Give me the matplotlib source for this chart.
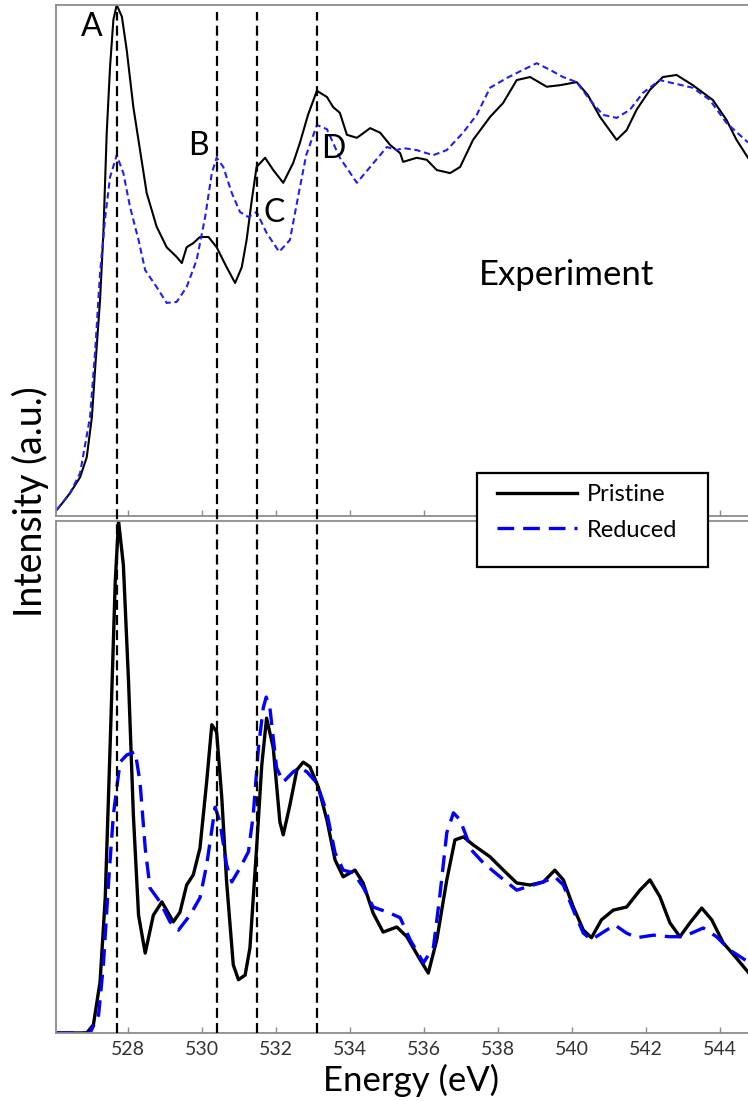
import numpy as np
import matplotlib
matplotlib.use("Agg")
from matplotlib import pyplot as plt
from matplotlib.lines import Line2D
from matplotlib.patches import Rectangle
from matplotlib.transforms import blended_transform_factory

plt.rcParams['font.family'] = ['Lato', 'DejaVu Sans']

# O K-edge, experiment (top panel)
exp_pristine_e = [526.08, 526.26, 526.44, 526.71, 526.89, 527.03, 527.12, 527.25, 527.34, 527.43,
                  527.52, 527.61, 527.70, 527.84, 527.97, 528.15, 528.33, 528.51, 528.78, 529.05,
                  529.32, 529.46, 529.59, 529.77, 529.95, 530.18, 530.40, 530.67, 530.90, 531.08,
                  531.21, 531.35, 531.48, 531.71, 531.93, 532.20, 532.47, 532.65, 532.87, 533.11,
                  533.38, 533.55, 533.73, 533.92, 534.19, 534.55, 534.82, 535.09, 535.36, 535.44,
                  535.81, 536.08, 536.35, 536.71, 536.98, 537.33, 537.79, 538.14, 538.51, 538.87,
                  539.32, 539.68, 540.13, 540.43, 540.76, 541.21, 541.48, 541.75, 542.11, 542.46,
                  542.83, 543.27, 543.81, 544.18, 544.45, 544.76]
exp_pristine_i = [0.012, 0.028, 0.045, 0.076, 0.115, 0.194, 0.292, 0.423, 0.554, 0.750,
                  0.879, 0.971, 1.000, 0.977, 0.912, 0.800, 0.716, 0.632, 0.566, 0.526,
                  0.507, 0.495, 0.526, 0.534, 0.546, 0.546, 0.526, 0.487, 0.456, 0.487,
                  0.540, 0.618, 0.683, 0.701, 0.677, 0.652, 0.691, 0.730, 0.785, 0.832,
                  0.820, 0.800, 0.789, 0.746, 0.740, 0.759, 0.750, 0.726, 0.710, 0.693,
                  0.701, 0.697, 0.677, 0.671, 0.683, 0.736, 0.781, 0.808, 0.853, 0.859,
                  0.840, 0.843, 0.849, 0.824, 0.781, 0.736, 0.755, 0.795, 0.834, 0.859,
                  0.863, 0.843, 0.814, 0.775, 0.736, 0.701]

exp_reduced_e = [526.08, 526.44, 526.71, 526.98, 527.12, 527.25, 527.39, 527.52, 527.70, 527.88,
                 528.06, 528.29, 528.47, 528.78, 529.05, 529.32, 529.59, 529.86, 530.09, 530.27,
                 530.40, 530.58, 530.81, 531.03, 531.26, 531.48, 531.75, 532.09, 532.38, 532.61,
                 532.82, 533.11, 533.38, 533.73, 534.19, 534.55, 535.00, 535.27, 535.44, 535.81,
                 536.25, 536.62, 537.06, 537.43, 537.79, 538.24, 538.68, 539.05, 539.41, 539.76,
                 540.13, 540.49, 540.84, 541.21, 541.57, 541.92, 542.38, 542.73, 543.27, 543.73,
                 544.18, 544.76]
exp_reduced_i = [0.012, 0.045, 0.084, 0.194, 0.325, 0.476, 0.585, 0.663, 0.706, 0.671,
                 0.605, 0.540, 0.481, 0.448, 0.417, 0.419, 0.448, 0.501, 0.585, 0.671,
                 0.701, 0.683, 0.632, 0.595, 0.585, 0.595, 0.554, 0.517, 0.540, 0.628,
                 0.706, 0.765, 0.757, 0.701, 0.652, 0.683, 0.722, 0.716, 0.720, 0.716,
                 0.706, 0.716, 0.750, 0.785, 0.838, 0.857, 0.873, 0.886, 0.873, 0.859,
                 0.849, 0.814, 0.785, 0.779, 0.795, 0.828, 0.853, 0.847, 0.838, 0.814,
                 0.769, 0.731]

# O K-edge, calculation (bottom panel)
calc_pristine_e = [526.08, 526.89, 527.07, 527.25, 527.39, 527.52, 527.66, 527.75, 527.88, 528.02,
                   528.15, 528.29, 528.47, 528.69, 528.92, 529.23, 529.41, 529.59, 529.77, 529.95,
                   530.13, 530.27, 530.40, 530.54, 530.67, 530.85, 530.99, 531.17, 531.30, 531.48,
                   531.62, 531.75, 531.93, 532.11, 532.20, 532.38, 532.57, 532.74, 532.92, 533.15,
                   533.38, 533.60, 533.82, 534.14, 534.36, 534.63, 534.90, 535.27, 535.54, 535.90,
                   536.12, 536.35, 536.62, 536.84, 537.07, 537.34, 537.79, 538.15, 538.51, 538.87,
                   539.23, 539.54, 539.77, 540.04, 540.31, 540.53, 540.80, 541.12, 541.48, 541.84,
                   542.11, 542.38, 542.65, 542.92, 543.19, 543.51, 543.78, 544.09, 544.45, 544.76]
calc_pristine_i = [0.0, 0.0, 0.016, 0.100, 0.264, 0.557, 0.881, 1.000, 0.914, 0.686,
                   0.426, 0.230, 0.156, 0.230, 0.256, 0.217, 0.236, 0.289, 0.309, 0.361,
                   0.490, 0.602, 0.588, 0.459, 0.295, 0.133, 0.104, 0.113, 0.166, 0.361,
                   0.523, 0.615, 0.557, 0.412, 0.387, 0.445, 0.514, 0.529, 0.520, 0.480,
                   0.416, 0.338, 0.305, 0.318, 0.293, 0.234, 0.197, 0.207, 0.188, 0.143,
                   0.117, 0.182, 0.299, 0.377, 0.383, 0.367, 0.344, 0.318, 0.293, 0.289,
                   0.295, 0.318, 0.299, 0.246, 0.201, 0.186, 0.221, 0.240, 0.246, 0.279,
                   0.299, 0.266, 0.215, 0.188, 0.215, 0.244, 0.221, 0.176, 0.146, 0.119]

calc_reduced_e = [526.08, 526.98, 527.21, 527.34, 527.48, 527.61, 527.79, 527.97, 528.20, 528.33,
                  528.47, 528.60, 528.87, 529.14, 529.37, 529.68, 529.95, 530.13, 530.36, 530.49,
                  530.67, 530.81, 531.03, 531.26, 531.39, 531.53, 531.66, 531.74, 531.84, 532.02,
                  532.20, 532.47, 532.65, 532.84, 533.11, 533.38, 533.60, 533.82, 534.09, 534.36,
                  534.63, 535.09, 535.36, 535.63, 535.99, 536.26, 536.44, 536.62, 536.80, 536.98,
                  537.29, 537.61, 538.06, 538.51, 538.87, 539.23, 539.54, 539.77, 540.04, 540.31,
                  540.53, 540.85, 541.16, 541.48, 541.75, 542.20, 542.65, 543.01, 543.55, 543.91,
                  544.27, 544.76]
calc_reduced_i = [0.0, 0.0, 0.035, 0.133, 0.295, 0.426, 0.529, 0.543, 0.549, 0.490,
                  0.361, 0.283, 0.256, 0.217, 0.201, 0.230, 0.264, 0.328, 0.441, 0.412,
                  0.328, 0.295, 0.322, 0.354, 0.426, 0.557, 0.635, 0.656, 0.635, 0.518,
                  0.490, 0.510, 0.518, 0.510, 0.488, 0.430, 0.352, 0.318, 0.313, 0.285,
                  0.246, 0.234, 0.225, 0.182, 0.137, 0.168, 0.273, 0.391, 0.430, 0.416,
                  0.357, 0.332, 0.305, 0.279, 0.287, 0.295, 0.305, 0.289, 0.240, 0.195,
                  0.182, 0.197, 0.211, 0.195, 0.186, 0.191, 0.188, 0.188, 0.205, 0.188,
                  0.162, 0.139]

peak_energies = [527.70, 530.40, 531.50, 533.12]
peak_labels = ['A', 'B', 'C', 'D']
label_pos = [(527.03, 0.939), (529.90, 0.706), (531.95, 0.575), (533.55, 0.701)]
xticks = [528, 530, 532, 534, 536, 538, 540, 542, 544]

spine_gray = '#8c8c8c'

fig = plt.figure(figsize=(7.48, 11.01), dpi=100)
ax1 = fig.add_axes([0.0749, 0.5313, 0.9251, 0.4642])
ax2 = fig.add_axes([0.0749, 0.0618, 0.9251, 0.4650])

ax1.plot(exp_pristine_e, exp_pristine_i, color='black', lw=1.5)
ax1.plot(exp_reduced_e, exp_reduced_i, color='#2020ee', lw=1.5, linestyle=(0, (3, 1.8)))

l_p, = ax2.plot(calc_pristine_e, calc_pristine_i, color='black', lw=2.4, label='Pristine')
l_r, = ax2.plot(calc_reduced_e, calc_reduced_i, color='#0000ff', lw=2.4,
                linestyle=(0, (5, 2.7)), label='Reduced')

for ax in (ax1, ax2):
    ax.set_xlim(526.06, 544.76)
    ax.set_ylim(0, 1.0)
    ax.set_yticks([])
    ax.set_xticks(xticks)
    ax.spines['right'].set_visible(False)
    for s in ('left', 'top', 'bottom'):
        ax.spines[s].set_color(spine_gray)
        ax.spines[s].set_linewidth(1.3)
    ax.tick_params(axis='x', direction='in', length=4.5, width=1, color=spine_gray,
                   labelsize=14, labelcolor='#333333', pad=6)
ax1.tick_params(axis='x', labelbottom=False)

for (x, y), t in zip(label_pos, peak_labels):
    ax1.text(x, y, t, fontsize=23, ha='center', va='baseline')
ax1.text(539.87, 0.452, 'Experiment', fontsize=25, ha='center', va='baseline')

# dashed guides running through both panels
tr = blended_transform_factory(ax2.transData, fig.transFigure)
for e in peak_energies:
    fig.add_artist(Line2D([e, e], [0.0618, 0.989], transform=tr, color='black',
                          lw=1.6, linestyle=(0, (4.5, 2.3)), zorder=3))

# legend box straddling the two panels
fig.add_artist(Rectangle((477 / 748, 1 - 567 / 1101), 231 / 748, 94 / 1101,
                         transform=fig.transFigure, facecolor='white', edgecolor='black',
                         lw=1.6, zorder=5))
leg = fig.legend(handles=[l_p, l_r], loc='upper left', bbox_to_anchor=(497 / 748, 1 - 484 / 1101),
                 frameon=False, fontsize=17, handlelength=3.4, handletextpad=0.4,
                 labelspacing=0.62, borderpad=0, borderaxespad=0)
leg.set_zorder(6)

fig.text(30 / 748, 1 - 502 / 1101, 'Intensity (a.u.)', rotation=90, fontsize=27,
         ha='center', va='center')
fig.text(411 / 748, 1 - 1080 / 1101, 'Energy (eV)', fontsize=25, ha='center', va='center')

fig.savefig('out.png', dpi=100)
